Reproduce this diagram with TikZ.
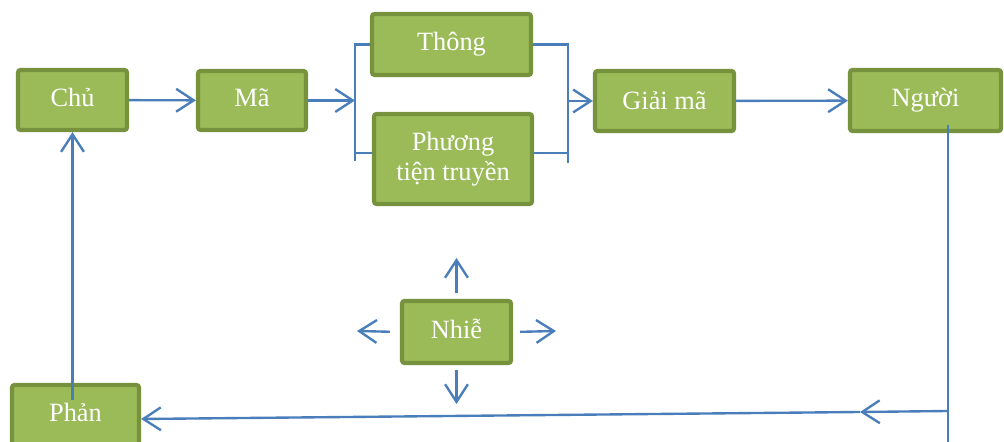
\documentclass[tikz,border=0pt]{standalone}
\usepackage{fontspec}
\setmainfont{Liberation Serif}
\usetikzlibrary{positioning,arrows.meta}
\definecolor{boxfill}{HTML}{9BBB59}
\definecolor{boxline}{HTML}{76923C}
\definecolor{arrowblue}{HTML}{4A7EBB}

\begin{document}
\begin{tikzpicture}[
	block/.style={draw=boxline,fill=boxfill,line width=2.4pt,rounded corners=1.5pt,
		text=white,font=\fontsize{15}{17}\selectfont,align=center},
	topline/.style={text height=11pt,text depth=4pt},
	link/.style={color=arrowblue,line width=1.35pt},
	>={Straight Barb[length=10pt,width=13pt]}]
\clip (0,0) rectangle (20.08,-8.84);
\node[block,topline,minimum width=2.18cm,minimum height=1.20cm]	(chu)		at (1.45,-2.00)	{Chủ};
\node[block,topline,minimum width=2.16cm,minimum height=1.18cm]	(maHoa)		at (5.04,-2.01)	{Mã};
\node[block,topline,minimum width=3.18cm,minimum height=1.22cm]	(thongDiep)	at (9.03,-0.89)	{Thông};
\node[block,minimum width=3.16cm,minimum height=1.80cm]		(phuongTien)	at (9.06,-3.18)	{Phương\\tiện truyền};
\node[block,minimum width=2.78cm,minimum height=1.20cm]		(giaiMa)	at (13.29,-2.02)	{Giải mã};
\node[block,topline,minimum width=3.02cm,minimum height=1.22cm]	(nguoiNhan)	at (18.51,-2.01)	{Người};
\node[block,topline,minimum width=2.18cm,minimum height=1.24cm]	(nhieu)		at (9.13,-6.64)	{Nhiễ};
\node[block,topline,minimum width=2.54cm,minimum height=1.20cm]	(phanHoi)	at (1.51,-8.30)	{Phản};
\coordinate (brL)	at (7.10,-0.82);
\coordinate (brLbot)	at (7.10,-3.06);
\coordinate (brLend)	at (7.10,-3.22);
\coordinate (brR)	at (11.36,-0.82);
\coordinate (brRbot)	at (11.36,-3.06);
\coordinate (brRend)	at (11.36,-3.26);
\coordinate (corner)	at (18.96,-8.22);
\coordinate (bottomEnd)	at (18.96,-8.84);
\coordinate (midTip)	at (17.20,-8.24);
\coordinate (nUp)	at (9.16,-5.16);
\coordinate (nDown)	at (9.20,-8.08);
\coordinate (nLeft)	at (7.14,-6.62);
\coordinate (nRight)	at (11.12,-6.62);
\path[link,->]	(chu)		edge	(maHoa)
		(giaiMa)	edge	(nguoiNhan);
\draw[link,->] (maHoa.east) -- (maHoa.east -| brL);
\draw[link] (thongDiep.west) -- (thongDiep.west -| brL) -- (brLend);
\draw[link] (phuongTien.west |- brLbot) -- (brLbot);
\draw[link] (thongDiep.east) -- (thongDiep.east -| brR) -- (brRend);
\draw[link] (phuongTien.east |- brRbot) -- (brRbot);
\draw[link,->] (giaiMa.west -| brR) -- (giaiMa.west);
\draw[link] ([yshift=0.16cm]nguoiNhan.south -| corner) -- (bottomEnd);
\draw[link,->] (corner) -- (midTip);
\draw[link,->] (midTip) -- ([yshift=-0.08cm]phanHoi.east);
\draw[link,->] ([yshift=-0.34cm]phanHoi.north -| chu.south) -- (chu.south);
\draw[link,->,shorten <=0.12cm] (nhieu.north) -- (nhieu.north |- nUp);
\draw[link,->,shorten <=0.10cm] (nhieu.south) -- (nhieu.south |- nDown);
\draw[link,->,shorten <=0.20cm] (nhieu.west) -- (nLeft);
\draw[link,->,shorten <=0.14cm] (nhieu.east) -- (nRight);
\end{tikzpicture}
\end{document}
